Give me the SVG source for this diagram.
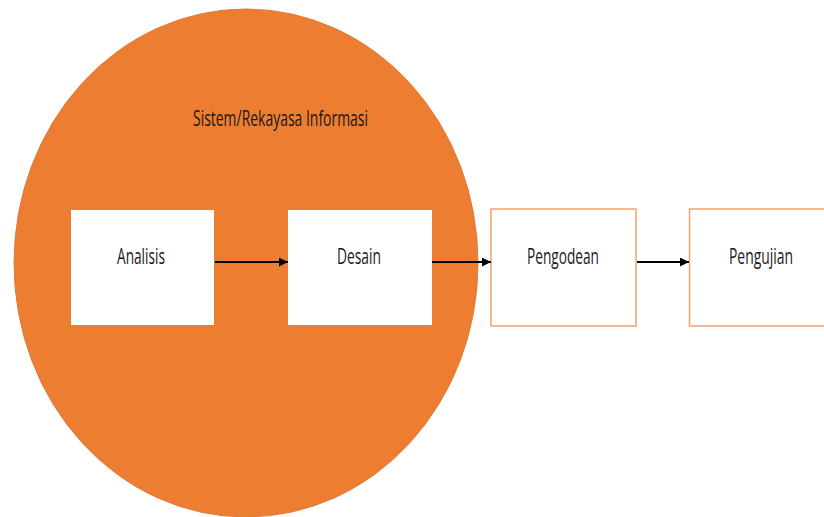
<svg xmlns="http://www.w3.org/2000/svg" width="824" height="517" viewBox="0 0 824 517">
<defs>
<style>
.lbl{font-family:"Open Sans","Liberation Sans",Arial,sans-serif;font-size:22px;fill:#1a1a1a;}
.inner{fill:#ffffff;stroke:none;}
.outer{fill:#ffffff;stroke:#F4A070;stroke-width:1.5;}
.conn{stroke:#000000;stroke-width:1.8;fill:none;marker-end:url(#ah);}
</style>
<marker id="ah" viewBox="0 0 10 10" refX="10" refY="5" markerWidth="5" markerHeight="5" orient="auto" markerUnits="strokeWidth">
<path d="M0,0 L10,5 L0,10 Z" fill="#000000"/>
</marker>
</defs>
<rect width="824" height="517" fill="#ffffff"/>
<g id="sistem">
<ellipse cx="246" cy="263" rx="232" ry="254" fill="#ED7D31" stroke="#E07A3A" stroke-width="1"/>
<text class="lbl" x="193" y="126" textLength="175" lengthAdjust="spacingAndGlyphs">Sistem/Rekayasa Informasi</text>
</g>
<g id="analisis">
<rect class="inner" x="71" y="210" width="143" height="115"/>
<text class="lbl" x="117" y="264" textLength="48" lengthAdjust="spacingAndGlyphs">Analisis</text>
</g>
<g id="desain">
<rect class="inner" x="288" y="210" width="144" height="115"/>
<text class="lbl" x="337" y="264" textLength="44" lengthAdjust="spacingAndGlyphs">Desain</text>
</g>
<g id="pengodean">
<rect class="outer" x="491" y="209" width="145" height="117"/>
<text class="lbl" x="527" y="264" textLength="72" lengthAdjust="spacingAndGlyphs">Pengodean</text>
</g>
<g id="pengujian">
<rect class="outer" x="689.5" y="209" width="145" height="117"/>
<text class="lbl" x="729" y="264" textLength="64" lengthAdjust="spacingAndGlyphs">Pengujian</text>
</g>
<g id="connectors">
<line class="conn" x1="215" y1="262" x2="288" y2="262"/>
<line class="conn" x1="432" y1="262" x2="491" y2="262"/>
<line class="conn" x1="637" y1="262" x2="689" y2="262"/>
</g>
</svg>
